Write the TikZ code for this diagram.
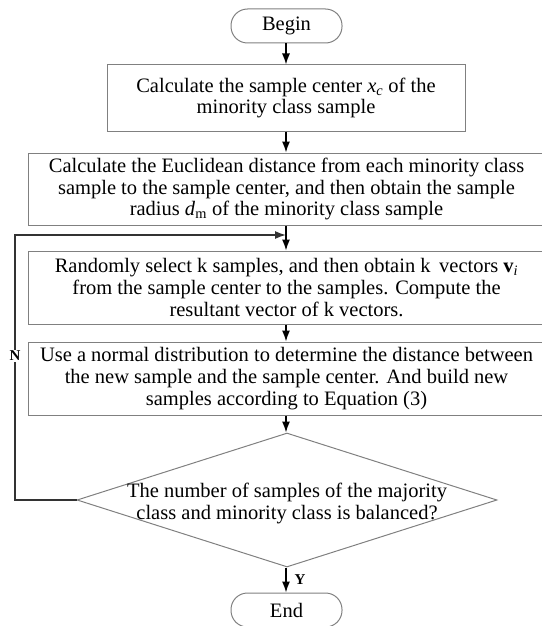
\documentclass[tikz,border=0pt]{standalone}
\usepackage{fontspec}
\setmainfont{Liberation Serif}
\usetikzlibrary{shapes.geometric,arrows.meta}

\tikzset{
  flow/.style={font=\fontsize{20.5}{21.7}\selectfont, align=center, inner sep=0pt},
  termbox/.style={flow, draw=gray, line width=1pt, rounded corners=16.5pt,
    minimum width=111pt, minimum height=34pt},
  procbox/.style={flow, draw=gray, line width=1pt, minimum width=#1},
  decbox/.style={diamond, draw=gray, line width=1pt, inner sep=0pt,
    minimum width=420pt, minimum height=134pt},
  arr/.style={-{Latex[length=11pt,width=8pt]}, line width=1.3pt},
  yn/.style={font=\fontsize{15}{15}\selectfont\bfseries}
}

\begin{document}
\begin{tikzpicture}[x=1pt,y=-1pt]
\useasboundingbox (0,0) rectangle (541,626);
% guide coordinates
\coordinate (axis) at (286,0);
\coordinate (loopx) at (15,0);
\coordinate (join) at (286,235);

% nodes (wide boxes run past the right edge)
\node[termbox] (begin) at (286.5,26) {Begin};
\node[procbox=358pt, minimum height=66pt] (b1) at (286,98) {Calculate the sample center \textit{x}\textsubscript{\textit{c}} of the\\minority class sample};
\node[procbox=517pt, minimum height=72pt] (b2) at (286.5,189) {Calculate the Euclidean distance from each minority class\\sample to the sample center, and then obtain the sample\\radius \textit{d}\textsubscript{m} of the minority class sample};
\node[procbox=517pt, minimum height=73pt] (b3) at (286.5,287.5) {Randomly select k samples, and then obtain k\, vectors \textbf{v}\textsubscript{\textit{i}}\\from the sample center to the samples. Compute the\\resultant vector of k vectors.};
\node[procbox=517pt, minimum height=73pt] (b4) at (286.5,378.5) {Use a normal distribution to determine the distance between\\the new sample and the sample center. And build new\\samples according to Equation (3)};
\node[decbox, label={[flow, yshift=-3.5pt]center:The number of samples of the majority\\class and minority class is balanced?}] (dec) at (287,500) {};
\node[termbox] (end) at (286.5,610) {End};

% connectors
\draw[arr] (begin.south -| axis) -- (b1.north -| axis);
\draw[arr] (b1.south -| axis) -- (b2.north -| axis);
\draw[arr] (b2.south -| axis) -- (b3.north -| axis);
\draw[arr] (b3.south -| axis) -- (b4.north -| axis);
\draw[arr] (b4.south -| axis) -- (dec.north -| axis);
\draw[arr] (dec.south -| axis) -- (end.north -| axis);
\draw[arr, black!80] (dec.west) -- (dec.west -| loopx) |- (join);

% branch labels
\node[yn, fill=white, inner sep=1.5pt] (nlab) at (15,356) {N};
\node[yn] (ylab) at (300,580) {Y};
\end{tikzpicture}
\end{document}
